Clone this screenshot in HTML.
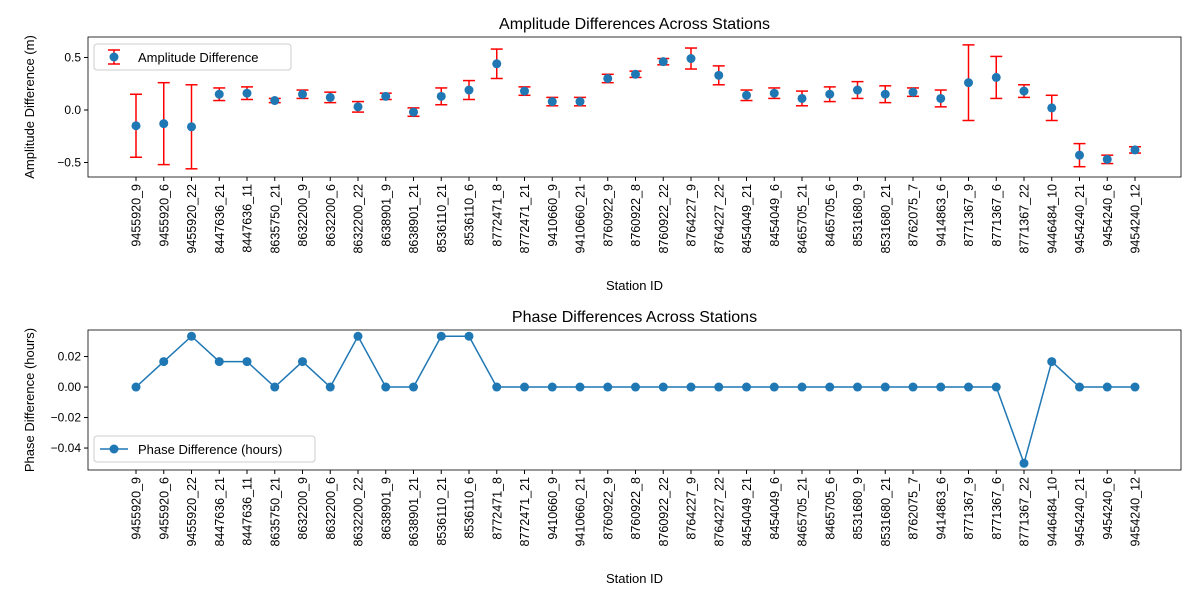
<!DOCTYPE html>
<html><head><meta charset="utf-8"><style>
body{margin:0;background:#fff;font-family:"Liberation Sans","DejaVu Sans",sans-serif}
svg text{font-family:"Liberation Sans","DejaVu Sans",sans-serif;fill:#000}
</style></head><body>
<svg id="c" width="1200" height="600" viewBox="0 0 1200 600"></svg>
<script>
const stations=["9455920_9","9455920_6","9455920_22","8447636_21","8447636_11","8635750_21","8632200_9","8632200_6","8632200_22","8638901_9","8638901_21","8536110_21","8536110_6","8772471_8","8772471_21","9410660_9","9410660_21","8760922_9","8760922_8","8760922_22","8764227_9","8764227_22","8454049_21","8454049_6","8465705_21","8465705_6","8531680_9","8531680_21","8762075_7","9414863_6","8771367_9","8771367_6","8771367_22","9446484_10","9454240_21","9454240_6","9454240_12"];
const ampValues=[-0.15,-0.13,-0.16,0.15,0.16,0.09,0.15,0.12,0.03,0.13,-0.02,0.13,0.19,0.44,0.18,0.08,0.08,0.30,0.34,0.46,0.49,0.33,0.14,0.16,0.11,0.15,0.19,0.15,0.17,0.11,0.26,0.31,0.18,0.02,-0.43,-0.47,-0.38];
const ampErrors=[0.30,0.39,0.40,0.06,0.06,0.02,0.04,0.05,0.05,0.03,0.04,0.08,0.09,0.14,0.04,0.04,0.04,0.04,0.03,0.03,0.10,0.09,0.05,0.05,0.07,0.07,0.08,0.08,0.04,0.08,0.36,0.20,0.06,0.12,0.11,0.04,0.03];
const phaseValues=[0,0.0167,0.0333,0.0167,0.0167,0,0.0167,0,0.0333,0,0,0.0333,0.0333,0,0,0,0,0,0,0,0,0,0,0,0,0,0,0,0,0,0,0,-0.05,0.0167,0,0,0];
const ampTicks=[0.5,0.0,-0.5];
const ampTickLabels=["0.5","0.0","−0.5"];
const phaseTicks=[0.02,0,-0.02,-0.04];
const phaseTickLabels=["0.02","0.00","−0.02","−0.04"];

const svg=document.getElementById('c');const NS="http://www.w3.org/2000/svg";
function el(t,a,p){const e=document.createElementNS(NS,t);for(const k in a)e.setAttribute(k,a[k]);(p||svg).appendChild(e);return e;}
const L=88,R=1181,blue="#1f77b4";
const xS=i=>136+i*(1135-136)/(stations.length-1);
function panel(top,bot,ymin,ymax,ticks,tlabels,title,ylabel,name){
  const g=el('g',{});
  
  
  const y=v=>bot-(v-ymin)/(ymax-ymin)*(bot-top);
  el('rect',{x:L,y:top,width:R-L,height:bot-top,fill:'none',stroke:'#000','stroke-width':0.8},g);
  ticks.forEach((t,i)=>{const yy=y(t);
    el('line',{x1:L-4,x2:L,y1:yy,y2:yy,stroke:'#000'},g);
    const tx=el('text',{x:L-7,y:yy+4,'font-size':12,'text-anchor':'end'},g);tx.textContent=tlabels[i];
    
    });
  stations.forEach((s,i)=>{const xx=xS(i);
    el('line',{x1:xx,x2:xx,y1:bot,y2:bot+4,stroke:'#000'},g);
    const tx=el('text',{x:0,y:0,'font-size':12.5,'text-anchor':'end',transform:`translate(${xx+4.5},${bot+7}) rotate(-90)`},g);tx.textContent=s;
    
    });
  const tt=el('text',{x:(L+R)/2,y:top-8,'font-size':16,'text-anchor':'middle'},g);tt.textContent=title;
  
  
  const xl=el('text',{x:(L+R)/2,y:bot+113,'font-size':13,'text-anchor':'middle'},g);xl.textContent='Station ID';
  
  
  const yl=el('text',{x:0,y:0,'font-size':13,'text-anchor':'middle',transform:`translate(34,${(top+bot)/2}) rotate(-90)`},g);yl.textContent=ylabel;
  
  
  return {g,y};
}
const p1=panel(37,177,-0.638,0.695,ampTicks,ampTickLabels,"Amplitude Differences Across Stations","Amplitude Difference (m)","amplitude-panel");
ampValues.forEach((v,i)=>{const x=xS(i),y0=p1.y(v-ampErrors[i]),y1=p1.y(v+ampErrors[i]);
  el('line',{x1:x,x2:x,y1:y0,y2:y1,stroke:'red','stroke-width':1.5},p1.g);
  el('line',{x1:x-6,x2:x+6,y1:y0,y2:y0,stroke:'red','stroke-width':1.5},p1.g);
  el('line',{x1:x-6,x2:x+6,y1:y1,y2:y1,stroke:'red','stroke-width':1.5},p1.g);
  const c=el('circle',{cx:x,cy:p1.y(v),r:4.5,fill:blue},p1.g);
  
  });
const lg1=el('g',{},p1.g);


el('rect',{x:94,y:44,width:197,height:26,rx:3,fill:'#fff',stroke:'#ccc'},lg1);
el('line',{x1:114,x2:114,y1:50,y2:64,stroke:'red','stroke-width':1.5},lg1);
el('line',{x1:108,x2:120,y1:50,y2:50,stroke:'red','stroke-width':1.5},lg1);
el('line',{x1:108,x2:120,y1:64,y2:64,stroke:'red','stroke-width':1.5},lg1);
el('circle',{cx:114,cy:57,r:4.5,fill:blue},lg1);
el('text',{x:138,y:62,'font-size':13},lg1).textContent='Amplitude Difference';

const p2=panel(330,470,-0.0544,0.0374,phaseTicks,phaseTickLabels,"Phase Differences Across Stations","Phase Difference (hours)","phase-panel");
const line=el('polyline',{points:phaseValues.map((v,i)=>xS(i)+','+p2.y(v)).join(' '),fill:'none',stroke:blue,'stroke-width':1.5},p2.g);


phaseValues.forEach((v,i)=>{const c=el('circle',{cx:xS(i),cy:p2.y(v),r:4.5,fill:blue},p2.g);
  
  });
const lg2=el('g',{},p2.g);


el('rect',{x:94,y:436,width:221,height:26,rx:3,fill:'#fff',stroke:'#ccc'},lg2);
el('line',{x1:100,x2:128,y1:449,y2:449,stroke:blue,'stroke-width':1.5},lg2);
el('circle',{cx:114,cy:449,r:4.5,fill:blue},lg2);
el('text',{x:138,y:454,'font-size':13},lg2).textContent='Phase Difference (hours)';
</script>
</body></html>
